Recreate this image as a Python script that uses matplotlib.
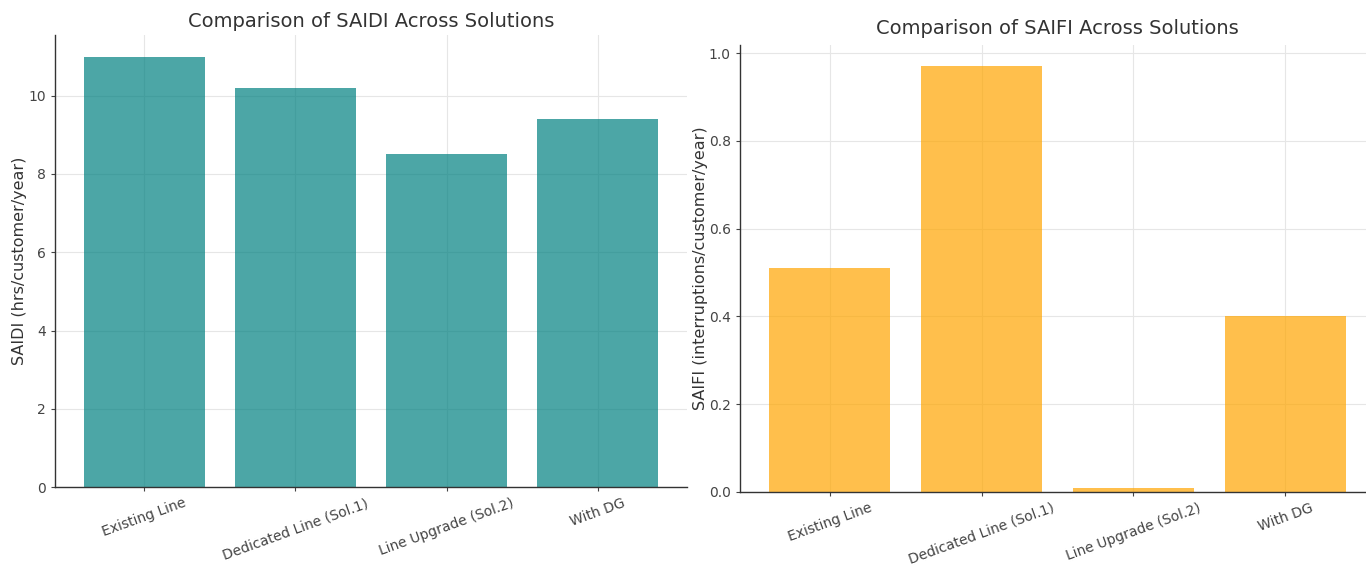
import matplotlib
matplotlib.use('Agg')
import matplotlib.pyplot as plt

solutions = ['Existing Line', 'Dedicated Line (Sol.1)', 'Line Upgrade (Sol.2)', 'With DG']
saidi = [11.0, 10.2, 8.5, 9.4]
saifi = [0.51, 0.97, 0.01, 0.40]


def style_axis(ax):
    ax.grid(True, color='#e6e6e6', linewidth=0.8)
    ax.set_axisbelow(True)
    for side in ['top', 'right']:
        ax.spines[side].set_visible(False)
    for side in ['left', 'bottom']:
        ax.spines[side].set_color('#333333')
        ax.spines[side].set_linewidth(1.0)
    ax.tick_params(colors='#444444', labelsize=10, length=3)
    ax.tick_params(axis='x', labelrotation=20)
    for lbl in ax.get_xticklabels():
        lbl.set_ha('center')


def main():
    fig = plt.figure(figsize=(13.66, 5.71), dpi=100)
    ax1 = fig.add_axes([0.0403, 0.147, 0.4627, 0.7916])
    ax2 = fig.add_axes([0.5417, 0.1384, 0.4649, 0.7828])

    ax1.bar(solutions, saidi, color='teal', alpha=0.7)
    ax1.set_title('Comparison of SAIDI Across Solutions', fontsize=14, color='#333333', pad=6)
    ax1.set_ylabel('SAIDI (hrs/customer/year)', fontsize=11.5, color='#333333', labelpad=1)
    style_axis(ax1)

    ax2.bar(solutions, saifi, color='orange', alpha=0.7)
    ax2.set_title('Comparison of SAIFI Across Solutions', fontsize=14, color='#333333', pad=8)
    ax2.set_ylabel('SAIFI (interruptions/customer/year)', fontsize=11.5, color='#333333', labelpad=1)
    style_axis(ax2)

    fig.savefig('out.png', dpi=100)


if __name__ == '__main__':
    main()
